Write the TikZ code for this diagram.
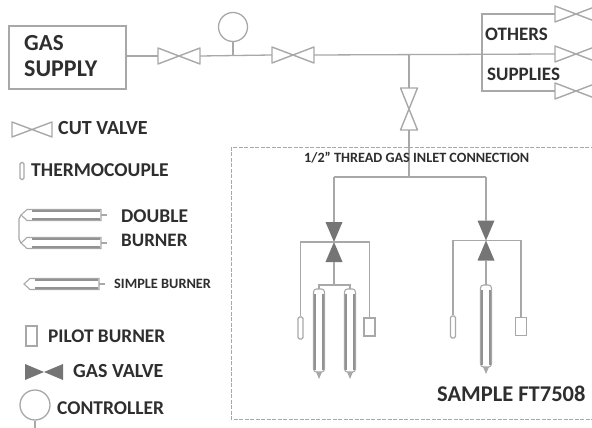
\documentclass[tikz,border=0pt]{standalone}
\usepackage{fontspec}
\setmainfont{Carlito}
\definecolor{ln}{HTML}{A8A8A8}
\definecolor{bar}{HTML}{929292}
\definecolor{dk}{HTML}{757575}
\definecolor{tx}{HTML}{2E2E2E}
\tikzset{
  pipe/.style={draw=ln,line width=1.3pt},
  boxln/.style={draw=ln,line width=1.5pt},
  hole/.style={inner sep=0pt,outer sep=0pt},
  lab/.style={inner sep=0pt,text=tx,anchor=west,font=\bfseries},
  dashbox/.style={draw=ln,line width=0.9pt,dash pattern=on 4pt off 1.5pt},
  ctrl/.style={circle,draw=ln,line width=1.3pt,inner sep=0pt,minimum size=29pt},
  pilot/.style={rectangle,draw=ln,line width=1.4pt,inner sep=0pt,minimum width=11pt,minimum height=18pt},
  therm/.style={rectangle,rounded corners=1.5pt,draw=ln,line width=1.4pt,inner sep=0pt,minimum width=5pt,minimum height=22pt},
}
\newcommand{\hvalve}[5]{\node[hole,minimum width=#4pt,minimum height=#5pt] (#1) at (#2,#3) {};
  \draw[ln,line width=1.4pt,line join=round] (#1.north west)--(#1.south east)--(#1.north east)--(#1.south west)--cycle;}
\newcommand{\vvalve}[5]{\node[hole,minimum width=#4pt,minimum height=#5pt] (#1) at (#2,#3) {};
  \draw[ln,line width=1.4pt,line join=round] (#1.north west)--(#1.south east)--(#1.south west)--(#1.north east)--cycle;}
\newcommand{\gvalve}[3]{\node[hole,minimum width=17pt,minimum height=40pt] (#1) at (#2,#3) {};
  \fill[dk] (#1.north west)--(#1.south east)--(#1.south west)--(#1.north east)--cycle;}
\newcommand{\hgvalve}[3]{\node[hole,minimum width=38pt,minimum height=16pt] (#1) at (#2,#3) {};
  \fill[dk] (#1.north west)--(#1.south east)--(#1.north east)--(#1.south west)--cycle;}
\newcommand{\vburner}[4]{\node[hole,minimum width=11pt,minimum height=#4pt-#3pt] (#1) at (#2,{(#3+#4)/2}) {};
  \draw[ln,line width=1.1pt,rounded corners=3pt] (#1.south west)--(#1.north west)--(#1.north east)--(#1.south east)--cycle;
  \fill[ln] (#1.south)++(-3,0)--++(3,7)--++(3,-7)--cycle;
  \draw[bar,line width=2.6pt] ([xshift=-4pt,yshift=-5pt]#1.north)--([xshift=-4pt,yshift=2pt]#1.south);
  \draw[bar,line width=2.6pt] ([xshift=4pt,yshift=-5pt]#1.north)--([xshift=4pt,yshift=2pt]#1.south);}
\newcommand{\hburner}[4]{\node[hole,minimum height=11pt,minimum width=#3pt-#2pt] (#1) at ({(#2+#3)/2},#4) {};
  \draw[ln,line width=1.1pt] (#1.north west)--(#1.north east)--(#1.south east)--(#1.south west)--([xshift=-6pt]#1.west)--cycle;
  \draw[ln,line width=1.3pt] (#1.east)--++(6,0);
  \draw[bar,line width=2.6pt] ([xshift=5pt,yshift=-4pt]#1.west)--([xshift=-1pt,yshift=-4pt]#1.east);
  \draw[bar,line width=2.6pt] ([xshift=5pt,yshift=4pt]#1.west)--([xshift=-1pt,yshift=4pt]#1.east);}
\begin{document}
\begin{tikzpicture}[x=1pt,y=-1pt]
\useasboundingbox (0,0) rectangle (592,428);
\clip (0,0) rectangle (592,428);
\fill[white] (0,0) rectangle (592,428);
\node[boxln,rectangle,inner sep=0pt,minimum width=117pt,minimum height=63pt] (gas) at (67.5,57.5) {};
\node[lab,font=\bfseries\fontsize{23}{23}\selectfont] (t1) at (24,43) {GAS};
\node[lab,font=\bfseries\fontsize{24}{24}\selectfont] (t2) at (24,69) {SUPPLY};
\hvalve{v1}{179}{56}{42}{16}
\hvalve{v2}{293}{55}{42}{16}
\coordinate (j1) at (233,56);
\coordinate (j2) at (409,54);
\node[ctrl] (c1) at (233,27) {};
\draw[pipe] (gas.east|-v1) -- (v1.west);
\draw[pipe] (v1.east) -- (v2.west);
\draw[pipe] (c1.south) -- (j1);
\hvalve{o1}{576}{14}{42}{16}
\hvalve{o2}{576}{54}{42}{16}
\hvalve{o3}{576}{91}{42}{16}
\draw[pipe] (v2.east) -- (o2.west);
\coordinate (ob) at (482,54);
\draw[boxln] (o1.west) -- (ob|-o1.west) -- (ob|-o3.west) -- (o3.west);
\node[lab,font=\bfseries\fontsize{19}{19}\selectfont] (t3) at (485,34) {OTHERS};
\node[lab,font=\bfseries\fontsize{19}{19}\selectfont] (t4) at (487,74) {SUPPLIES};
\draw[dashbox] (600,147) -- (231,147) -- (231,419) -- (600,419);
\vvalve{v3}{409}{109}{17}{42}
\coordinate (j3) at (409,177);
\draw[pipe] (j2) -- (v3.north);
\draw[pipe] (v3.south) -- (j3);
\node[lab,font=\bfseries\fontsize{14.2}{14.2}\selectfont] (t5) at (304,158) {1/2" THREAD GAS INLET CONNECTION};
\gvalve{g1}{334}{242}
\gvalve{g2}{486}{240.5}
\draw[pipe] (g1.north|-j3) -- (g2.north|-j3);
\draw[pipe] (g1.north|-j3) -- (g1.north);
\draw[pipe] (g2.north|-j3) -- (g2.north);
\node[therm] (th1) at (300.5,328) {};
\node[pilot] (p1) at (369.5,327) {};
\node[therm] (th2) at (453,327) {};
\node[pilot] (p2) at (521,326.5) {};
\draw[pipe] (th1.north) -- (th1.north|-g1) -- (p1.north|-g1) -- (p1.north);
\draw[pipe] (th2.north) -- (th2.north|-g2) -- (p2.north|-g2) -- (p2.north);
\vburner{b1}{319}{289}{372}
\vburner{b2}{350}{289}{372}
\vburner{b3}{486}{285}{367}
\coordinate (j4) at (334,285);
\draw[pipe] (b1.north) |- (j4) -| (b2.north);
\draw[pipe] (g1.south) -- (j4);
\draw[pipe] (g2.south) -- (b3.north);
\node[lab,font=\bfseries\fontsize{22.5}{22.5}\selectfont] (t6) at (437,394) {SAMPLE FT7508};
\hvalve{lv}{32}{129.5}{40}{15}
\node[lab,font=\bfseries\fontsize{20}{20}\selectfont] (l1) at (58,128) {CUT VALVE};
\node[therm,minimum width=4pt,minimum height=17pt] (lt) at (22,171) {};
\node[lab,font=\bfseries\fontsize{19.6}{19.6}\selectfont] (l2) at (31,170) {THERMOCOUPLE};
\hburner{lb1}{27}{101}{215}
\hburner{lb2}{27}{101}{243}
\draw[pipe] (lb1.west)++(-6,0) coordinate (lb1t) -- ++(-2,4) -- ++(0,20) -- ++(2,4);
\node[lab,font=\bfseries\fontsize{19.5}{19.5}\selectfont] (l3) at (121,216) {DOUBLE};
\node[lab,font=\bfseries\fontsize{19}{19}\selectfont] (l4) at (121,240) {BURNER};
\hburner{lb3}{30}{99}{284}
\node[lab,font=\bfseries\fontsize{14.3}{14.3}\selectfont] (l5) at (114,284) {SIMPLE BURNER};
\node[pilot,minimum height=20pt] (lp) at (31.5,336) {};
\node[lab,font=\bfseries\fontsize{19.3}{19.3}\selectfont] (l6) at (48,336) {PILOT BURNER};
\hgvalve{lg}{44}{372}
\node[lab,font=\bfseries\fontsize{20}{20}\selectfont] (l7) at (73,371) {GAS VALVE};
\node[ctrl,minimum size=30pt] (lc) at (35,405) {};
\coordinate (lce) at (35,428);
\draw[pipe] (lc.south) -- (lce);
\node[lab,font=\bfseries\fontsize{19.5}{19.5}\selectfont] (l8) at (57,408) {CONTROLLER};
\end{tikzpicture}
\end{document}
